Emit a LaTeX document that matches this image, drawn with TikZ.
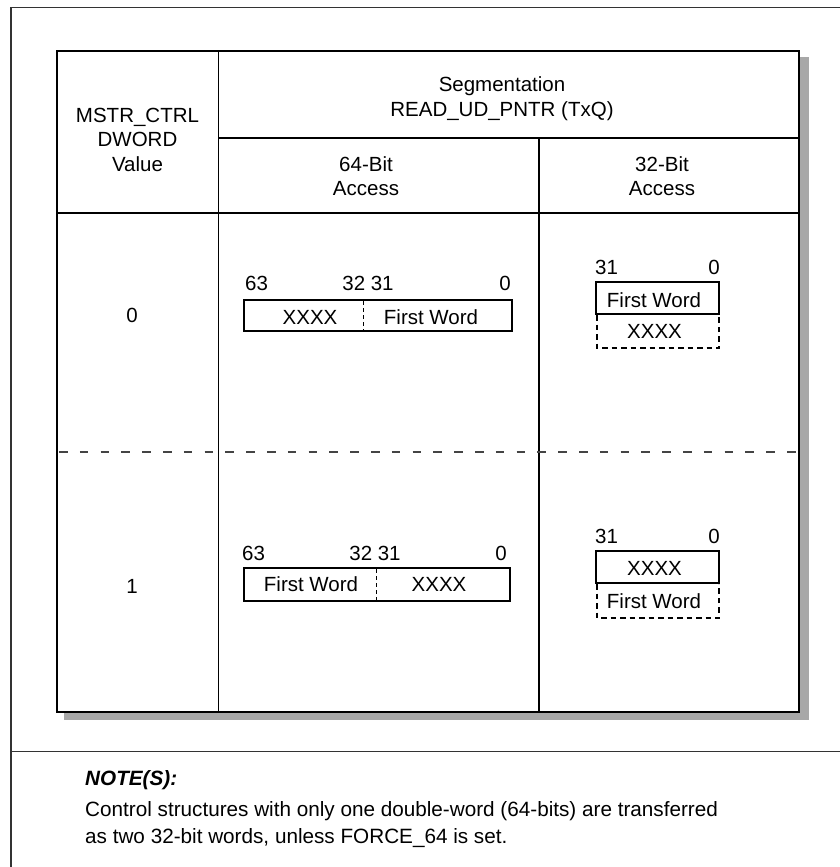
\documentclass[tikz,border=0pt]{standalone}
\usepackage{fontspec}
\setmainfont{Liberation Sans}
\definecolor{shadowgray}{HTML}{A8A8A8}
\definecolor{framegray}{HTML}{333333}
\definecolor{dashgray}{HTML}{444444}
\begin{document}
\begin{tikzpicture}[x=1pt,y=-1pt,
  txt/.style={font=\fontsize{20.5}{24.5}\selectfont, inner sep=0pt, anchor=base},
  notetxt/.style={font=\fontsize{20.7}{27}\selectfont, inner sep=0pt, anchor=base west},
  frameline/.style={draw=framegray, line width=1.4pt},
  cellline/.style={draw=black, line width=1.3pt},
  tableborder/.style={draw=black, line width=2.6pt},
  rowdash/.style={draw=dashgray, line width=1.3pt, dash pattern=on 8.5pt off 12.3pt},
  regbox/.style={draw=black, line width=2pt},
  regdash/.style={draw=black, line width=1pt, dash pattern=on 4pt off 3pt},
  lowdash/.style={draw=black, line width=1.1pt, dash pattern=on 5.5pt off 4pt}]
\useasboundingbox (0,0) rectangle (840,867);
\fill[white] (0,0) rectangle (840,867);
% outer frame
\draw[frameline] (11,867) -- (11,7.5) -- (840,7.5);
\draw[frameline] (11,751.5) -- (840,751.5);
% table shadow and body
\fill[shadowgray] (64,57.5) rectangle (808.5,720);
\fill[white] (57,51) rectangle (799,712);
\draw[cellline] (218.5,51) -- (218.5,712);
\draw[cellline] (539,138) -- (539,712);
\draw[cellline] (218.5,138) -- (799,138);
\draw[cellline] (57,213) -- (799,213);
\draw[rowdash] (59,452) -- (799,452);
\draw[tableborder] (57,51) rectangle (799,712);
% header texts
\node[txt] (h1a) at (137.5,122) {MSTR\_CTRL};
\node[txt] (h1b) at (137.5,146.5) {DWORD};
\node[txt] (h1c) at (137.5,171) {Value};
\node[txt] (h2a) at (502,91.5) {Segmentation};
\node[txt] (h2b) at (502,116) {READ\_UD\_PNTR (TxQ)};
\node[txt] (h3a) at (366,171) {64-Bit};
\node[txt] (h3b) at (366,195) {Access};
\node[txt] (h4a) at (662,171) {32-Bit};
\node[txt] (h4b) at (662,195) {Access};
% row labels
\node[txt] (r0) at (132,322) {0};
\node[txt] (r1) at (132,593) {1};
% row 0, 64-bit
\draw[regbox] (244,300) rectangle (512,331);
\draw[regdash] (363,301) -- (363,330);
\node[txt, anchor=base west] (a63) at (245,290) {63};
\node[txt] (a3231) at (368,290) {32 31};
\node[txt, anchor=base east] (a0) at (511,290) {0};
\node[txt] (ax) at (310,324) {XXXX};
\node[txt] (af) at (431,324) {First Word};
% row 0, 32-bit
\draw[regbox] (596,282) rectangle (719,314);
\draw[lowdash] (597,315) -- (597,348) -- (719,348) -- (719,315);
\node[txt, anchor=base west] (b31) at (595,274) {31};
\node[txt, anchor=base east] (b0) at (720,274) {0};
\node[txt] (bf) at (654,307) {First Word};
\node[txt] (bx) at (654.5,338.5) {XXXX};
% row 1, 64-bit
\draw[regbox] (244,568) rectangle (510,601);
\draw[regdash] (376,569) -- (376,600);
\node[txt, anchor=base west] (c63) at (242,560) {63};
\node[txt] (c3231) at (375,560) {32 31};
\node[txt, anchor=base east] (c0) at (507,560) {0};
\node[txt] (cf) at (311,591.5) {First Word};
\node[txt] (cx) at (439,591.5) {XXXX};
% row 1, 32-bit
\draw[regbox] (596,551) rectangle (719,583);
\draw[lowdash] (597,584) -- (597,618) -- (719,618) -- (719,584);
\node[txt, anchor=base west] (d31) at (595,543) {31};
\node[txt, anchor=base east] (d0) at (720,543) {0};
\node[txt] (dx) at (654.5,575) {XXXX};
\node[txt] (df) at (654,608) {First Word};
% notes
\node[notetxt] (nh) at (85,785) {\textbf{\textit{NOTE(S):}}};
\node[notetxt] (n1) at (85,816) {Control structures with only one double-word (64-bits) are transferred};
\node[notetxt] (n2) at (85,843) {as two 32-bit words, unless FORCE\_64 is set.};
\end{tikzpicture}
\end{document}
